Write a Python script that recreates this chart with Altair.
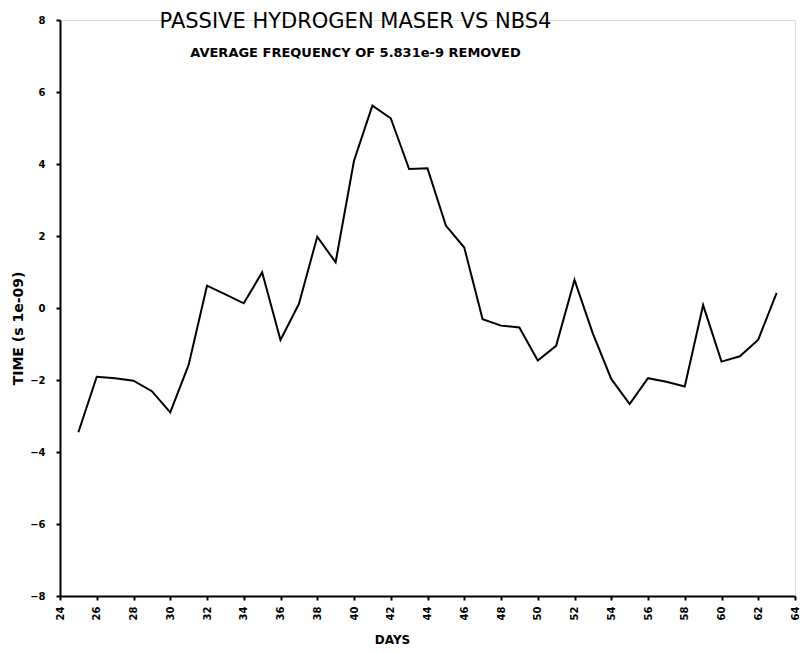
import altair as alt
import pandas as pd

days = list(range(25, 64))
values = [-3.45, -1.91, -1.95, -2.02, -2.31, -2.90, -1.58, 0.62, 0.38, 0.13,
          0.99, -0.89, 0.11, 1.98, 1.27, 4.09, 5.62, 5.27, 3.86, 3.88,
          2.29, 1.68, -0.31, -0.49, -0.54, -1.46, -1.05, 0.78, -0.71, -1.97,
          -2.67, -1.95, -2.05, -2.18, 0.08, -1.49, -1.34, -0.88, 0.42]
x_ticks = list(range(24, 65, 2))
y_ticks = list(range(-8, 9, 2))

df = pd.DataFrame({"day": days, "time": values})

chart = alt.Chart(df).mark_line(color="black", strokeWidth=2).encode(
    x=alt.X("day:Q",
            scale=alt.Scale(domain=[24, 64], nice=False, zero=False),
            axis=alt.Axis(values=x_ticks, title="DAYS", labelAngle=-90,
                          labelAlign="right", labelBaseline="middle",
                          labelFont="DejaVu Sans", labelFontWeight="bold",
                          labelFontSize=10, labelPadding=6,
                          titleFont="DejaVu Sans", titleFontWeight="bold",
                          titleFontSize=12, titleX=332, titleY=47,
                          titleBaseline="alphabetic",
                          domainColor="black", domainWidth=2,
                          tickColor="black", tickSize=4, tickWidth=2,
                          labelColor="black", titleColor="black",
                          grid=False)),
    y=alt.Y("time:Q",
            scale=alt.Scale(domain=[-8, 8], nice=False),
            axis=alt.Axis(values=y_ticks, title="TIME (s 1e-09)",
                          labelFont="DejaVu Sans", labelFontWeight="bold",
                          labelFontSize=10, labelPadding=11,
                          titleFont="DejaVu Sans", titleFontWeight="bold",
                          titleFontSize=14, titleAngle=-90,
                          titleX=-42, titleY=308, titleAlign="center",
                          titleBaseline="middle",
                          domainColor="black", domainWidth=2,
                          tickColor="black", tickSize=4, tickWidth=2,
                          labelColor="black", titleColor="black",
                          grid=False)),
).properties(
    width=735,
    height=576,
    padding={"left": 52, "top": 12, "right": 6, "bottom": 49},
    autosize=alt.AutoSizeParams(type="none"),
    title=alt.TitleParams(
        text="PASSIVE HYDROGEN MASER VS NBS4",
        subtitle="AVERAGE FREQUENCY OF 5.831e-9 REMOVED",
        font="DejaVu Sans", fontSize=21, fontWeight="normal", color="black",
        subtitleFont="DejaVu Sans", subtitleFontSize=13,
        subtitleFontWeight="bold", subtitleColor="black",
        subtitlePadding=15,
        anchor="middle", dx=-72, offset=-45,
    ),
).configure_view(stroke=None).configure(background="white")

chart.save("out.html", embed_options={"renderer": "svg", "actions": False})
